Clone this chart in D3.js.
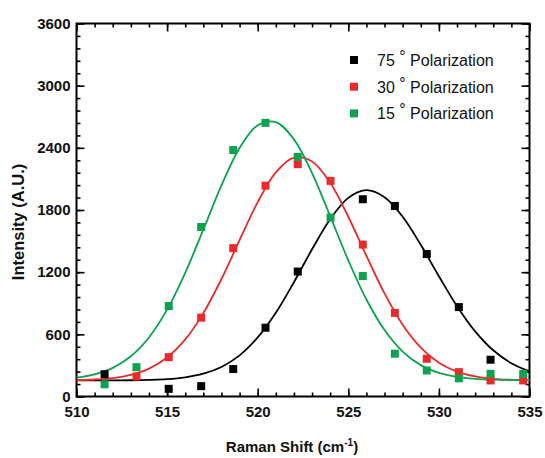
<!DOCTYPE html>
<html>
<head>
<meta charset="utf-8">
<script src="https://cdn.jsdelivr.net/npm/d3@7"></script>
<style>
	body { margin: 0; background: #fff; }
	svg { display: block; font-family: "Liberation Sans", Arial, sans-serif; }
	.tick text { font-weight: bold; font-size: 15px; fill: #111; }
	.tick line { stroke: #000; stroke-width: 1.6; }
</style>
</head>
<body>
<div id="chart"></div>
<script>
// measured points (Raman shift in cm-1, intensity in A.U.)
const shiftX = [511.55, 513.31, 515.09, 516.88, 518.65, 520.43, 522.21, 524.02, 525.8, 527.57, 529.33, 531.1, 532.85, 534.65]
const pol75 = [215, null, 74, 100, 265, 664, 1206, null, 1904, 1839, 1375, 863, 355, null]
const pol30 = [null, 193, 380, 761, 1432, 2035, 2242, 2081, 1466, 807, 364, 235, 155, 155]
const pol15 = [118, 283, 873, 1636, 2378, 2641, 2313, 1727, 1163, 413, 251, 175, 219, 219]

// fitted curves at every 1 cm-1
const fitX = [510, 511, 512, 513, 514, 515, 516, 517, 518, 519, 520, 521, 522, 523, 524, 525, 526, 527, 528, 529, 530, 531, 532, 533, 534, 535]
const fit75 = [155, 155, 156, 157, 160, 167, 185, 220, 285, 397, 570, 808, 1103, 1421, 1711, 1917, 1991, 1923, 1735, 1464, 1161, 872, 629, 446, 321, 242]
const fit30 = [158, 164, 178, 209, 269, 376, 551, 805, 1134, 1510, 1876, 2163, 2305, 2268, 2062, 1735, 1357, 995, 693, 472, 326, 240, 194, 171, 161, 158]
const fit15 = [182, 214, 276, 388, 570, 838, 1194, 1611, 2037, 2398, 2618, 2648, 2482, 2156, 1741, 1314, 936, 641, 434, 303, 229, 190, 171, 163, 160, 159]

const xMajor = [510, 515, 520, 525, 530, 535]
const yMajor = [0, 600, 1200, 1800, 2400, 3000, 3600]
const xMinor = [510, 511, 512, 513, 514, 515, 516, 517, 518, 519, 520, 521, 522, 523, 524, 525, 526, 527, 528, 529, 530, 531, 532, 533, 534, 535]
const yMinor = [0, 120, 240, 360, 480, 600, 720, 840, 960, 1080, 1200, 1320, 1440, 1560, 1680, 1800, 1920, 2040, 2160, 2280, 2400, 2520, 2640, 2760, 2880, 3000, 3120, 3240, 3360, 3480, 3600]

const seriesNames = ['75', '30', '15']
const seriesColors = ['#000000', '#ec2a2a', '#0ca24f']

const width = 545
const height = 458
const margin = { top: 23.5, right: 15.5, bottom: 61.5, left: 76.5 }
const plotW = width - margin.left - margin.right
const plotH = height - margin.top - margin.bottom

const x = d3.scaleLinear().domain([510, 535]).range([0, plotW])
const y = d3.scaleLinear().domain([0, 3600]).range([plotH, 0])

const svg = d3.select('#chart')
	.append('svg')
	.attr('width', width)
	.attr('height', height)

const g = svg.append('g')
	.attr('transform', `translate(${margin.left},${margin.top})`)

// minor ticks on all four sides, pointing inward
const minorAxes = [
	[d3.axisBottom(x).tickValues(xMinor).tickSize(-4), `translate(0,${plotH})`],
	[d3.axisTop(x).tickValues(xMinor).tickSize(-4), null],
	[d3.axisLeft(y).tickValues(yMinor).tickSize(-4), null],
	[d3.axisRight(y).tickValues(yMinor).tickSize(-4), `translate(${plotW},0)`],
]
minorAxes.forEach(([axis, tr]) => {
	const a = g.append('g').call(axis.tickFormat(''))
	if (tr) a.attr('transform', tr)
	a.select('.domain').remove()
})

// major ticks
g.append('g')
	.attr('transform', `translate(0,${plotH})`)
	.call(d3.axisBottom(x).tickValues(xMajor).tickSize(-8).tickPadding(10).tickFormat(d3.format('d')))
	.call(a => a.select('.domain').remove())

g.append('g')
	.call(d3.axisTop(x).tickValues(xMajor).tickSize(-8).tickFormat(''))
	.call(a => a.select('.domain').remove())

g.append('g')
	.call(d3.axisLeft(y).tickValues(yMajor).tickSize(-8).tickPadding(6).tickFormat(d3.format('d')))
	.call(a => a.select('.domain').remove())

g.append('g')
	.attr('transform', `translate(${plotW},0)`)
	.call(d3.axisRight(y).tickValues(yMajor).tickSize(-8).tickFormat(''))
	.call(a => a.select('.domain').remove())

// frame
g.append('rect')
	.attr('width', plotW)
	.attr('height', plotH)
	.attr('fill', 'none')
	.attr('stroke', '#000')
	.attr('stroke-width', 2)

// fit lines
const line = d3.line()
	.x((d, i) => x(fitX[i]))
	.y(d => y(d))
	.curve(d3.curveCatmullRom.alpha(0.5))

const fits = [fit75, fit30, fit15]
fits.forEach((f, i) => {
	g.append('path')
		.datum(f)
		.attr('fill', 'none')
		.attr('stroke', seriesColors[i])
		.attr('stroke-width', 1.8)
		.attr('d', line)
})

// data squares (black, red, then green on top)
const sq = 8
const points = [pol75, pol30, pol15]
points.forEach((vals, i) => {
	const pts = vals.map((v, j) => ({ x: shiftX[j], v })).filter(d => d.v !== null)
	g.append('g')
		.selectAll('rect')
		.data(pts)
		.enter()
		.append('rect')
		.attr('x', d => x(d.x) - sq / 2)
		.attr('y', d => y(d.v) - sq / 2)
		.attr('width', sq)
		.attr('height', sq)
		.attr('fill', seriesColors[i])
})

// legend
const legend = svg.append('g')
	.attr('transform', 'translate(354,60)')
seriesNames.forEach((name, i) => {
	const row = legend.append('g').attr('transform', `translate(0,${i * 26.7})`)
	row.append('rect')
		.attr('x', -4).attr('y', -4)
		.attr('width', 8).attr('height', 8)
		.attr('fill', seriesColors[i])
	const t = row.append('text')
		.attr('x', 23)
		.attr('y', 6)
		.attr('font-size', 16)
		.attr('fill', '#111')
	t.append('tspan').text(name + ' ')
	t.append('tspan').attr('dy', -4).text('°')
	t.append('tspan').attr('dy', 4).text(' Polarization')
})

// axis titles
const xt = svg.append('text')
	.attr('x', 292)
	.attr('y', 452)
	.attr('text-anchor', 'middle')
	.attr('font-size', 15)
	.attr('font-weight', 'bold')
	.attr('fill', '#111')
xt.append('tspan').text('Raman Shift (cm')
xt.append('tspan').attr('dy', -6).attr('font-size', 10).text('-1')
xt.append('tspan').attr('dy', 6).text(')')

svg.append('text')
	.attr('transform', 'translate(24,222) rotate(-90)')
	.attr('text-anchor', 'middle')
	.attr('font-size', 16.5)
	.attr('font-weight', 'bold')
	.attr('fill', '#111')
	.text('Intensity (A.U.)')
</script>
</body>
</html>
